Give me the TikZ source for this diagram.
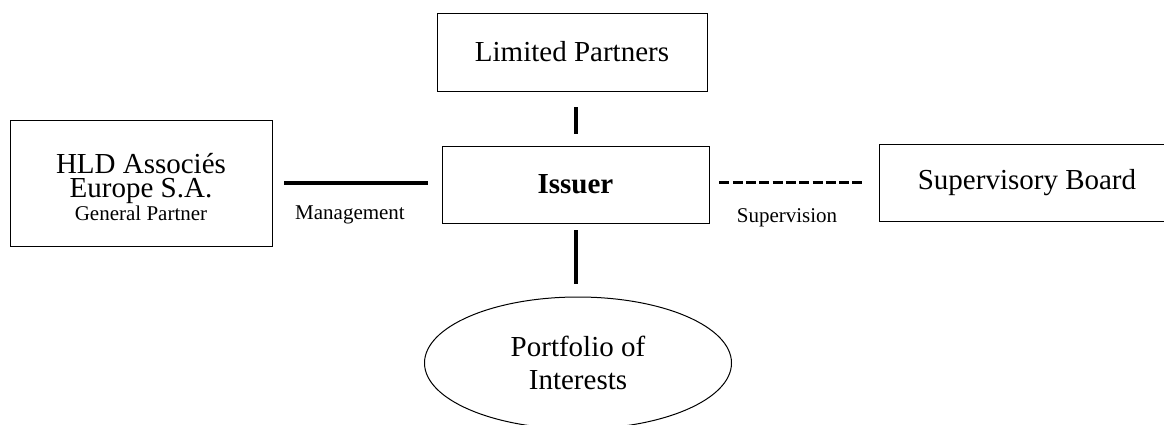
\documentclass[tikz,border=0pt]{standalone}
\usepackage{fontspec}
\setmainfont{Liberation Serif}
\usetikzlibrary{shapes.geometric}
\tikzset{
  box/.style={draw=black, line width=0.9pt, rectangle, inner sep=0pt, align=center,
    font=\fontsize{29}{24}\selectfont},
  oval/.style={draw=black, line width=1pt, ellipse, inner sep=0pt, align=center,
    font=\fontsize{29}{33}\selectfont},
  conn/.style={line width=4pt, black},
  dconn/.style={line width=3.5pt, black, dash pattern=on 10pt off 3.3pt},
  lbl/.style={font=\fontsize{21}{21}\selectfont, anchor=base, inner sep=0pt},
}
\begin{document}
\begin{tikzpicture}[x=1pt,y=-1pt]
\useasboundingbox (0,0) rectangle (1164,424);
\node[box, minimum width=270pt, minimum height=78pt] (LP) at (572,52) {Limited Partners};
\node[box, minimum width=267pt, minimum height=77pt] (IS) at (575.5,184.5) {\bfseries Issuer};
\node[box, minimum width=262pt, minimum height=126pt] (HLD) at (141,183)
  {\rule{0pt}{29pt}HLD Associés\\Europe S.A.\\[-1pt]{\fontsize{21}{24}\selectfont General Partner}};
\node[box, minimum width=296pt, minimum height=77pt] (SB) at (1027,182.5) {Supervisory Board};
\node[oval, minimum width=307pt, minimum height=132pt] (PI) at (578,363) {Portfolio of\\Interests};
% connectors
\draw[conn, shorten <=16pt, shorten >=12pt] (LP.south -| IS.north) -- (IS.north);
\draw[conn, shorten <=7pt, shorten >=13pt] (IS.south) -- (IS.south |- PI.north);
\draw[conn, shorten <=12pt, shorten >=14pt] (HLD.east) -- (HLD.east -| IS.west);
\draw[dconn, shorten <=10pt, shorten >=17pt] (IS.east |- SB.west) -- (SB.west);
% labels
\node[lbl] (mg) at (350,219) {Management};
\node[lbl] (sv) at (787,222) {Supervision};
\end{tikzpicture}
\end{document}
